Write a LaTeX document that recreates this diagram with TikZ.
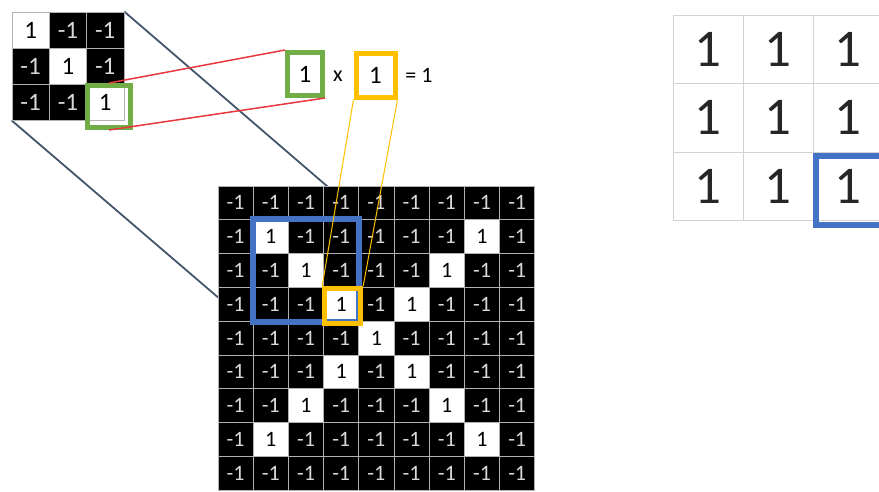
\documentclass[tikz,border=0pt]{standalone}
\usepackage{fontspec}
\setmainfont{Carlito}
\usetikzlibrary{fit,backgrounds}

\definecolor{verde}{HTML}{70AD47}
\definecolor{naranja}{HTML}{FFC000}
\definecolor{azul}{HTML}{4472C4}
\definecolor{pizarra}{HTML}{44546A}
\definecolor{rojo}{HTML}{E8383D}

\begin{document}
\begin{tikzpicture}[
        x=1pt, y=-1pt,
        pixel/.style={
            rectangle,
            draw=gray!60,
            line width=0.8pt,
            inner sep=0pt,
            minimum width=35.2pt,
            minimum height=33.8pt,
            font=\fontsize{22}{22}\selectfont
        },
        filtro/.style={
            pixel,
            minimum width=37.3pt,
            minimum height=36pt,
            font=\fontsize{25}{25}\selectfont
        },
        tabla/.style={
            rectangle,
            draw=gray!35,
            line width=0.8pt,
            inner sep=0pt,
            minimum width=70pt,
            minimum height=68.5pt,
            text=black!85,
            font=\fontsize{53}{53}\selectfont
        },
        negra/.style={fill=black, text=white!85!black},
        blanca/.style={fill=white, text=black},
        recuadro/.style={
            rectangle,
            inner sep=0pt,
            line width=5pt
        }
    ]

    \useasboundingbox (0,0) rectangle (879,491);

    % Filtro 3x3
    \foreach \r in {0,1,2} {
        \foreach \c in {0,1,2} {
            \ifnum\r=\c
                \node[filtro,blanca] (k-\r-\c)
                    at ({12+37.3*(\c+0.5)},{12+36*(\r+0.5)}) {1};
            \else
                \node[filtro,negra] (k-\r-\c)
                    at ({12+37.3*(\c+0.5)},{12+36*(\r+0.5)}) {-1};
            \fi
        }
    }

    % Imagen 9x9 (una X)
    \foreach \r in {0,...,8} {
        \foreach \c in {0,...,8} {
            \pgfmathtruncatemacro{\uno}{and(and(\r>0,\r<8),or(\c==\r,\c==(8-\r)))}
            \ifnum\uno=1
                \node[pixel,blanca] (m-\r-\c)
                    at ({218+35.2*(\c+0.5)},{186+33.8*(\r+0.5)}) {1};
            \else
                \node[pixel,negra] (m-\r-\c)
                    at ({218+35.2*(\c+0.5)},{186+33.8*(\r+0.5)}) {-1};
            \fi
        }
    }

    % Recuadros
    \node[recuadro, draw=azul, line width=6pt, fit=(m-1-1)(m-3-3)] (ventana) {};
    \node[recuadro, draw=naranja, fit=(m-3-3), xshift=1.5pt, yshift=-1.5pt] (pix) {};
    \node[recuadro, draw=verde, minimum width=43pt, minimum height=42pt]
        (kbox) at (109,106.5) {};

    % Producto
    \node[recuadro, draw=verde, fill=white, minimum width=35pt, minimum height=43pt,
          font=\fontsize{25}{25}\selectfont]
        (gbox) at (305,74) {1};
    \node[font=\fontsize{22}{22}\selectfont] (por) at (338,76) {x};
    \node[recuadro, draw=naranja, fill=white, minimum width=39pt, minimum height=44pt,
          font=\fontsize{25}{25}\selectfont]
        (obox) at (375.5,75) {1};
    \node[font=\fontsize{22}{22}\selectfont] (igual) at (419,75) {= 1};

    % Líneas
    \draw[rojo, line width=1.5pt] (kbox.north) -- (gbox.north west);
    \draw[rojo, line width=1.5pt] (kbox.south) -- (gbox.south east);
    \draw[naranja, line width=1pt] (obox.south west) -- (pix.north west);
    \draw[naranja, line width=1pt] (obox.south east) -- (pix.north east);
    \begin{pgfonlayer}{background}
        \draw[pizarra, line width=1.8pt] (k-0-2.north east) -- (ventana.north east);
        \draw[pizarra, line width=1.8pt] (k-2-0.south west) -- (ventana.south west);
    \end{pgfonlayer}

    % Mapa de salida
    \foreach \r in {0,1,2} {
        \foreach \c in {0,1,2} {
            \node[tabla] (t-\r-\c) at ({673+70*(\c+0.5)},{15+68.5*(\r+0.5)}) {1};
        }
    }
    \node[recuadro, draw=azul, line width=6pt, fit=(t-2-2), xshift=3pt, yshift=-4pt]
        (salida) {};

\end{tikzpicture}
\end{document}
